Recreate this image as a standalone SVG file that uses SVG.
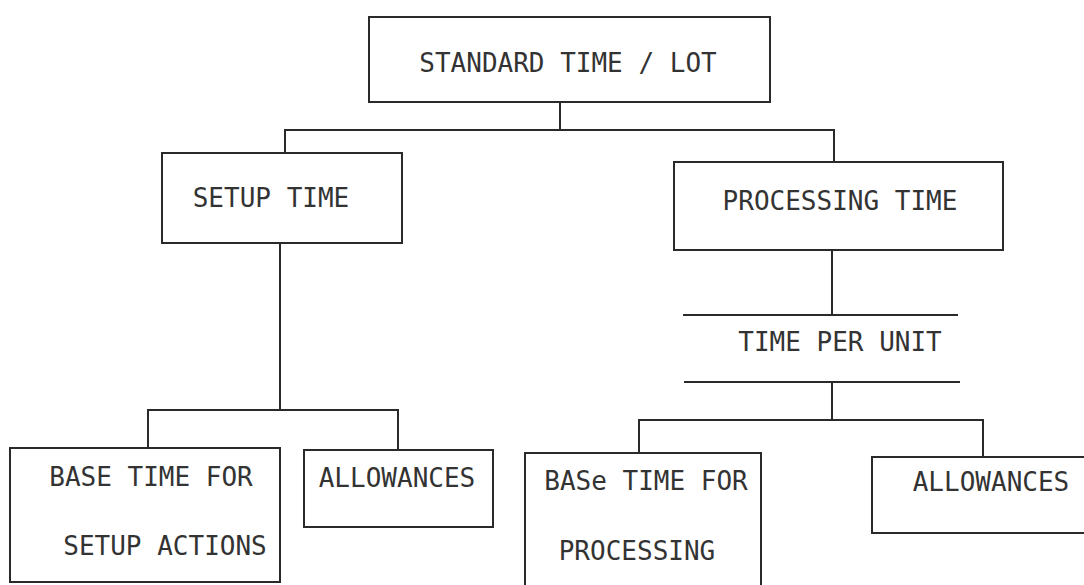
<svg xmlns="http://www.w3.org/2000/svg" width="1084" height="585" viewBox="0 0 1084 585">
<style>
  .box{fill:none;stroke:#2a2a2a;stroke-width:2}
  .ln{fill:none;stroke:#2a2a2a;stroke-width:2}
  text{font-family:"DejaVu Sans Mono","Liberation Mono",monospace;font-size:26px;fill:#333;text-anchor:middle}
</style>
<rect width="1084" height="585" fill="#ffffff"/>
<g id="connectors">
  <polyline class="ln" points="560,102 560,130"/>
  <polyline class="ln" points="285,153 285,130 834,130 834,162"/>
  <polyline class="ln" points="280,243 280,410"/>
  <polyline class="ln" points="148,448 148,410 398,410 398,450"/>
  <polyline class="ln" points="832,250 832,315"/>
  <polyline class="ln" points="832,382 832,420"/>
  <polyline class="ln" points="639,453 639,420 983,420 983,457"/>
</g>
<g id="standard-time">
  <rect class="box" x="369" y="17" width="401" height="85"/>
  <text x="568" y="72">STANDARD TIME / LOT</text>
</g>
<g id="setup-time">
  <rect class="box" x="162" y="153" width="240" height="90"/>
  <text x="271" y="207">SETUP TIME</text>
</g>
<g id="processing-time">
  <rect class="box" x="674" y="162" width="329" height="88"/>
  <text x="840" y="210">PROCESSING TIME</text>
</g>
<g id="time-per-unit">
  <line class="ln" x1="683" y1="315" x2="958" y2="315"/>
  <line class="ln" x1="684" y1="382" x2="960" y2="382"/>
  <text x="840" y="351">TIME PER UNIT</text>
</g>
<g id="base-setup">
  <rect class="box" x="10" y="448" width="270" height="134"/>
  <text x="151" y="486">BASE TIME FOR</text>
  <text x="165" y="555">SETUP ACTIONS</text>
</g>
<g id="allowances-setup">
  <rect class="box" x="304" y="450" width="189" height="77"/>
  <text x="397" y="487">ALLOWANCES</text>
</g>
<g id="base-processing">
  <rect class="box" x="525" y="453" width="236" height="140"/>
  <text x="646" y="490">BASe TIME FOR</text>
  <text x="637" y="560">PROCESSING</text>
</g>
<g id="allowances-processing">
  <rect class="box" x="872" y="457" width="230" height="76"/>
  <text x="991" y="491">ALLOWANCES</text>
</g>
</svg>
